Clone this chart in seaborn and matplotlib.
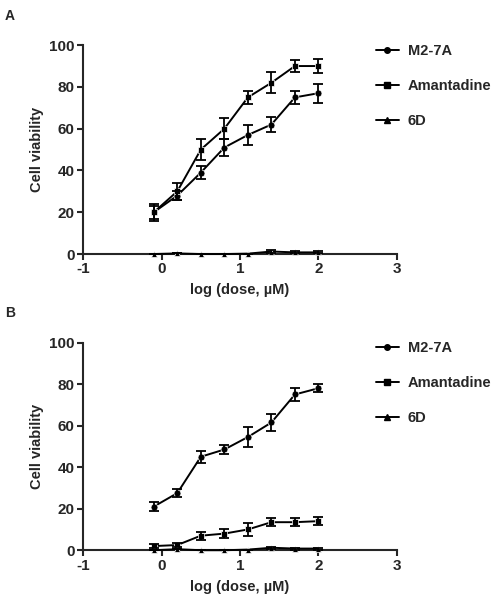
import numpy as np
import pandas as pd
import matplotlib
matplotlib.use("Agg")
from matplotlib import pyplot as plt
import seaborn as sns

# x positions (log dose)
log_dose = [-0.1, 0.2, 0.5, 0.8, 1.1, 1.4, 1.7, 2.0]
series_names = ["M2-7A", "Amantadine", "6D"]

# Panel A
a_m27a = [20, 28, 39, 51, 57, 62, 75, 77]
a_m27a_err = [3, 2, 3, 4, 5, 3.5, 3, 4.5]
a_amant = [20, 30, 50, 60, 75, 82, 90, 90]
a_amant_err = [4, 4, 5, 5, 3, 5, 3, 3.5]
a_6d = [0, 0.3, 0, 0, 0.2, 1.2, 0.8, 0.8]
a_6d_err = [0, 0, 0, 0, 0, 0.5, 0.5, 0.5]

# Panel B
b_m27a = [21, 27.5, 45, 48.5, 54.5, 61.5, 75, 78]
b_m27a_err = [2, 2, 3, 2, 5, 4, 3, 2]
b_amant = [2, 2.5, 7, 8, 10, 13.5, 13.5, 14]
b_amant_err = [1, 1, 2, 2, 3, 2, 2, 2]
b_6d = [0, 0.5, 0, 0, 0.3, 1.2, 0.8, 0.8]
b_6d_err = [0, 0, 0, 0, 0, 0.5, 0.5, 0.5]

sns.set_style("ticks")
plt.rcParams['font.family'] = ['Liberation Sans', 'DejaVu Sans']
plt.rcParams['font.weight'] = 'bold'
plt.rcParams['axes.unicode_minus'] = False

markers = {"M2-7A": "o", "Amantadine": "s", "6D": "^"}
sizes = {"M2-7A": 4, "Amantadine": 4.5, "6D": 4.5}


def draw_panel(ax, means, errs, letter):
    rows = []
    for name, m in zip(series_names, means):
        for x, y in zip(log_dose, m):
            rows.append({"x": x, "y": y, "series": name})
    df = pd.DataFrame(rows)

    # lines + markers via seaborn
    sns.lineplot(data=df, x="x", y="y", style="series", markers=markers,
                 dashes=False, color="black", linewidth=1.4, markersize=5,
                 markeredgewidth=0.5, ax=ax, legend=False, clip_on=False, zorder=3)

    # error bars
    for name, m, e in zip(series_names, means, errs):
        ax.errorbar(log_dose, m, yerr=e, fmt="none", ecolor="black",
                    elinewidth=1.3, capsize=3.5, capthick=1.3, clip_on=False,
                    zorder=3)

    # legend handles
    for name in series_names:
        ax.plot([], [], color="black", marker=markers[name],
                markersize=sizes[name], linewidth=1.4, label=name)
    ax.legend(loc="upper left", bbox_to_anchor=(0.89, 1.07), frameon=False,
              handlelength=1.6, labelspacing=1.45, handletextpad=0.6,
              prop={"weight": "bold", "size": 10.5})

    ax.set_xlim(-1, 3)
    ax.set_ylim(0, 100)
    ax.set_xticks([-1, 0, 1, 2, 3])
    ax.set_yticks([0, 20, 40, 60, 80, 100])
    ax.set_xlabel("log (dose, µM)", fontsize=10.5, fontweight="bold", labelpad=5)
    ax.set_ylabel("Cell viability", fontsize=10.5, fontweight="bold", labelpad=4)
    for s in ["left", "bottom"]:
        ax.spines[s].set_linewidth(1.5)
    sns.despine(ax=ax)
    ax.tick_params(width=1.5, length=4, labelsize=11, pad=2)
    for lab in ax.get_xticklabels() + ax.get_yticklabels():
        lab.set_fontweight("bold")
    ax.text(-0.25, 1.175, letter, transform=ax.transAxes, fontsize=10,
            fontweight="bold", va="top")


fig = plt.figure(figsize=(4.98, 6.02), dpi=100)
ax_a = fig.add_axes([0.167, 0.578, 0.63, 0.347])
ax_b = fig.add_axes([0.167, 0.086, 0.63, 0.345])

draw_panel(ax_a, [a_m27a, a_amant, a_6d], [a_m27a_err, a_amant_err, a_6d_err], "A")
draw_panel(ax_b, [b_m27a, b_amant, b_6d], [b_m27a_err, b_amant_err, b_6d_err], "B")

fig.savefig("out.png", dpi=100, facecolor="white")
